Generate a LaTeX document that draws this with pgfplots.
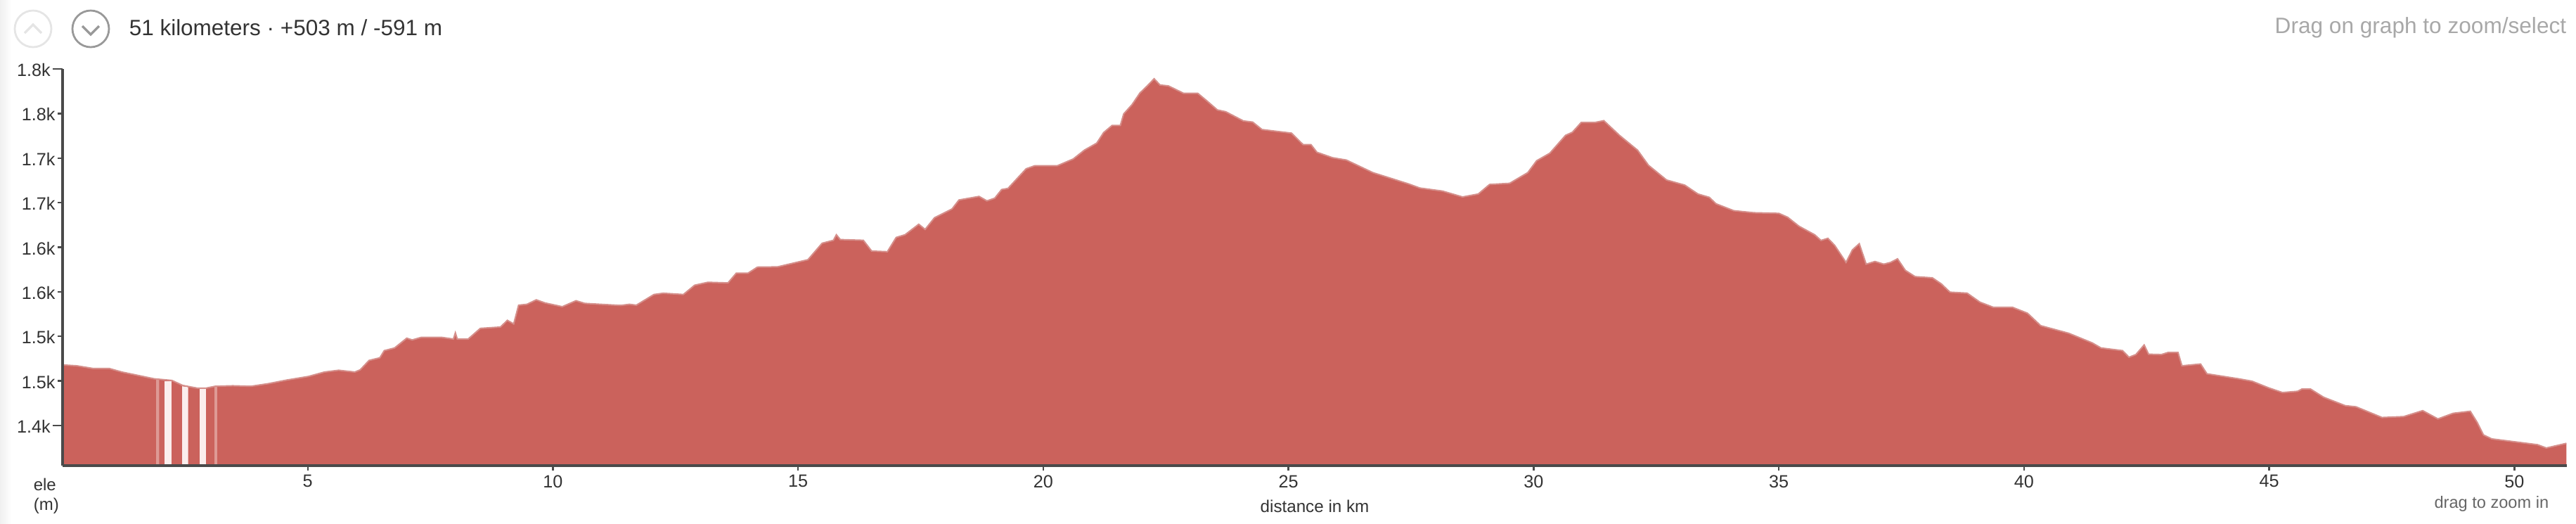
\documentclass[border=0pt]{standalone}
\usepackage{fontspec}
\setmainfont{Liberation Sans}
\usepackage{pgfplots}
\usepackage{pgfplotstable}
\pgfplotsset{compat=1.18}
\definecolor{fillred}{HTML}{CB625C}
\definecolor{edgepink}{HTML}{D58F8B}
\definecolor{stripe}{HTML}{FBEEED}
\definecolor{faint}{HTML}{DE9A95}
\definecolor{axisdark}{HTML}{4A4A4A}
\definecolor{txt}{HTML}{333333}
\definecolor{hint}{HTML}{A8A8A8}
\pgfplotstableread{
km ele
0 1468
0.29 1467
0.62 1464
0.95 1464
1.21 1460
1.87 1452.4
2.23 1450.6
2.45 1445
2.74 1442
2.93 1442
3.11 1444
3.47 1444.6
3.84 1444
4.2 1447
4.57 1451
5.01 1455
5.34 1460
5.63 1462
5.96 1460
6.07 1462.5
6.25 1473
6.47 1476
6.56 1484
6.77 1487
7.02 1498
7.13 1496
7.32 1499
7.72 1499
7.97 1497
8.01 1504
8.05 1497
8.27 1497
8.52 1509
8.93 1510.5
9.07 1518
9.2 1514
9.3 1535
9.47 1536
9.66 1541
9.84 1537.5
10.19 1533.3
10.47 1540
10.65 1537
11.38 1534.7
11.56 1536
11.7 1535
12.06 1547
12.25 1548.4
12.66 1547
12.89 1557.4
13.16 1560.7
13.57 1560
13.74 1571
13.98 1571
14.17 1577.7
14.58 1578
15.2 1586
15.49 1604.5
15.72 1607.8
15.78 1614
15.86 1608.6
16.33 1607.8
16.5 1595.7
16.82 1595
17.0 1611
17.18 1614
17.46 1625.8
17.59 1620
17.78 1633
18.14 1643
18.28 1653
18.69 1657
18.85 1652
19.01 1655
19.15 1664.7
19.28 1666
19.65 1688
19.83 1691.5
20.29 1691.5
20.61 1699
20.84 1709
21.09 1716.8
21.23 1728.6
21.4 1736.5
21.57 1736.5
21.64 1749.6
21.81 1760
21.97 1773
22.12 1781
22.26 1789
22.38 1782
22.55 1781
22.86 1772.7
23.15 1772.7
23.34 1764
23.55 1754
23.72 1752
24.08 1741.7
24.27 1740.4
24.46 1732
25.06 1728
25.3 1715
25.46 1715
25.58 1706.5
25.9 1700.4
26.18 1697.8
26.72 1683.7
27.45 1671
27.68 1666.4
28.14 1663
28.55 1656.4
28.87 1659.7
29.1 1670.4
29.51 1671.7
29.88 1683.7
30.06 1697
30.33 1705.5
30.65 1725.5
30.79 1729
30.97 1740
31.25 1740
31.43 1742
31.75 1725.5
32.12 1708.8
32.34 1692
32.71 1675.4
33.08 1669.7
33.35 1659.7
33.58 1656
33.72 1648.7
34.08 1641
34.49 1638.7
35.0 1638
35.18 1633.6
35.41 1623.6
35.73 1614
35.86 1607.6
36.0 1610
36.14 1602
36.37 1583
36.5 1597
36.64 1604
36.78 1581
36.96 1584
37.14 1581
37.28 1583
37.42 1587
37.58 1574
37.78 1567
38.13 1565.7
38.31 1559
38.49 1549.6
38.84 1548.5
39.1 1538.4
39.37 1532.7
39.76 1532.7
40.07 1526
40.34 1512
40.91 1503.5
41.39 1492.7
41.57 1487
42.01 1484
42.14 1476.6
42.28 1479.6
42.45 1490.4
42.54 1480
42.8 1479.6
42.94 1482
43.14 1482
43.22 1467
43.6 1469
43.73 1458
44.39 1452.3
44.65 1449.7
45.0 1442
45.27 1437
45.58 1438.4
45.67 1441
45.84 1441
46.11 1431.7
46.55 1422.3
46.77 1421
47.3 1409
47.74 1410
48.13 1416.7
48.44 1407.4
48.75 1413.7
49.1 1416
49.24 1403.6
49.37 1389.4
49.54 1385
50.47 1378.5
50.65 1374.8
51.06 1380
}\elevation
\begin{document}
\begin{tikzpicture}
\useasboundingbox (0pt,0pt) rectangle (916pt,186pt);
\shade[left color=black!6,right color=white] (0pt,0pt) rectangle (4pt,186pt);
\begin{axis}[
  at={(22.25pt,20.5pt)},anchor=south west,
  scale only axis,width=890.5pt,height=141pt,
  xmin=0,xmax=51.07,ymin=1355,ymax=1800,
  axis on top,
  axis x line*=bottom,axis y line*=left,
  axis line style={draw=axisdark,line width=0.85pt,-},
  tick align=outside,
  major tick length=1.8pt,
  tick style={draw=axisdark,line width=0.6pt},
  xtick={5,10,...,50},
  xticklabels={5,10,15,20,25,30,35,40,45,50},
  ytick={1450,1500,1550,1600,1650,1700,1750},
  yticklabels={1.5k,1.5k,1.6k,1.6k,1.7k,1.7k,1.8k},
  extra y ticks={1400,1800},
  extra y tick labels={1.4k,1.8k},
  extra y tick style={major tick length=3.5pt},
  tick label style={font=\fontsize{6.3}{7}\selectfont,text=txt},
  xticklabel style={inner sep=0pt,yshift=-1.4pt},
  yticklabel style={inner sep=0pt,xshift=-0.6pt,yshift=-0.4pt},
  clip=false,
]
\addplot[fill=fillred,draw=none] table[x=km,y=ele]{\elevation} \closedcycle;
\addplot[fill=faint,draw=none] coordinates {(1.91,1452.5)(1.97,1452)} \closedcycle;
\addplot[fill=stripe,draw=none] coordinates {(2.08,1450)(2.22,1450)} \closedcycle;
\addplot[fill=stripe,draw=none] coordinates {(2.44,1444)(2.56,1443)} \closedcycle;
\addplot[fill=stripe,draw=none] coordinates {(2.79,1441)(2.92,1441)} \closedcycle;
\addplot[fill=faint,draw=none] coordinates {(3.10,1443.5)(3.16,1443.5)} \closedcycle;
\addplot[draw=edgepink,line width=0.5pt] table[x=km,y=ele]{\elevation};
\end{axis}
\begin{scope}[x=0.25pt,y=-0.25pt,yshift=186pt]
\draw[draw=black!10,line width=0.7pt] (47,41) circle[radius=26];
\draw[draw=black!10,line width=0.8pt] (35,47) -- (47,35) -- (59,47);
\draw[draw=black!40,line width=0.7pt] (129,41) circle[radius=26];
\draw[draw=black!40,line width=0.8pt] (117,37) -- (129,49) -- (141,37);
\node[anchor=west,inner sep=0pt,text=txt,font=\fontsize{7.87}{9}\selectfont] at (183,39) {51 kilometers · +503 m / -591 m};
\node[anchor=east,inner sep=0pt,text=hint,font=\fontsize{7.9}{9}\selectfont] at (3651,39) {Drag on graph to zoom/select};
\node[anchor=west,inner sep=0pt,text=txt,font=\fontsize{6}{7}\selectfont] at (47,689) {ele};
\node[anchor=west,inner sep=0pt,text=txt,font=\fontsize{6}{7}\selectfont] at (47,719) {(m)};
\node[inner sep=0pt,text=txt,font=\fontsize{6.05}{7}\selectfont] at (1870,720) {distance in km};
\node[anchor=east,inner sep=0pt,text=black!60,font=\fontsize{5.9}{7}\selectfont] at (3626,716) {drag to zoom in};
\end{scope}
\end{tikzpicture}
\end{document}
